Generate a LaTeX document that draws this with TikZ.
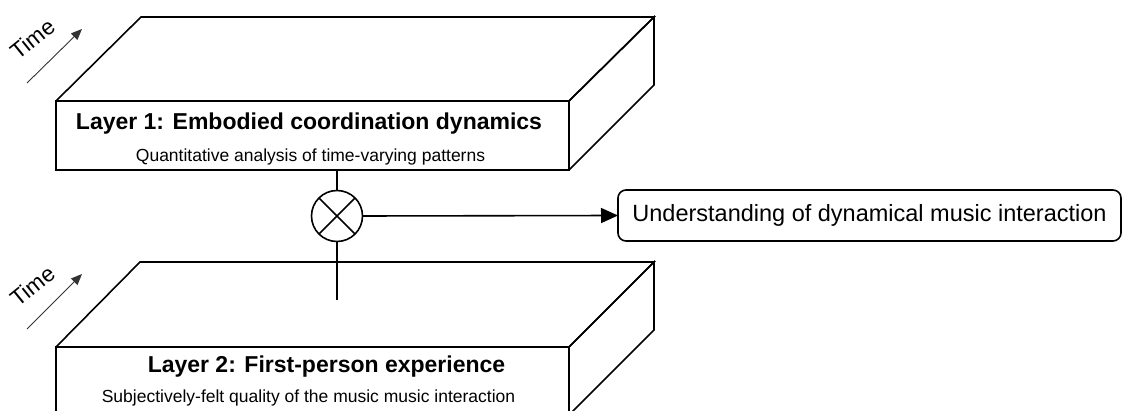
\documentclass[tikz,border=0pt]{standalone}
\usepackage{fontspec}
\setmainfont{Liberation Sans}
\usetikzlibrary{arrows.meta}
\begin{document}
\begin{tikzpicture}[x=1pt,y=-1pt,
  edge/.style={line width=1.6pt, line join=miter},
  face/.style={draw, line width=1.6pt, minimum width=513pt, minimum height=69pt,
    anchor=north west, inner sep=0pt, outer sep=0pt},
  title/.style={anchor=base, font=\bfseries\fontsize{23}{27}\selectfont, inner sep=0pt},
  subtitle/.style={anchor=base, font=\fontsize{17.5}{21}\selectfont, inner sep=0pt},
  timelabel/.style={rotate=39, font=\fontsize{22.5}{25}\selectfont, inner sep=0pt},
  timearrow/.style={line width=0.9pt, draw=black!80, -{Triangle[length=11pt,width=9pt]}},
  mixer/.style={circle, draw, line width=1.6pt, minimum size=51pt, inner sep=0pt, outer sep=0pt},
  result/.style={draw, line width=1.6pt, rounded corners=8pt, minimum width=503pt,
    minimum height=51pt, anchor=west, inner sep=0pt, outer sep=0pt,
    font=\fontsize{23.5}{28}\selectfont}]
\useasboundingbox (0,0) rectangle (1122,411);
\clip (0,0) rectangle (1122,411);

% Layer 1 block
\node[face] (front1) at (56,101) {};
\draw[edge] (front1.north west) -- ++(85,-84) -- ++(513,0) -- (front1.north east);
\draw[edge] (front1.north east) -- ++(85,-84) -- ++(0,68) -- (front1.south east);
\node[title] (l1title) at (309,130) {Layer 1: Embodied coordination dynamics};
\node[subtitle] (l1sub) at (310.5,162) {Quantitative analysis of time-varying patterns};

% Time axis of layer 1
\coordinate (t1s) at (27,83);
\coordinate (t1e) at (82,29);
\draw[timearrow] (t1s) -- (t1e);
\node[timelabel] (time1) at (33,39) {Time};

% Layer 2 block
\node[face] (front2) at (56,347) {};
\draw[edge] (front2.north west) -- ++(84,-85) -- ++(514,0) -- (front2.north east);
\draw[edge] (front2.north east) -- ++(85,-85) -- ++(0,68) -- ++(-85,85);
\node[title] (l2title) at (326.5,373) {Layer 2: First-person experience};
\node[subtitle] (l2sub) at (308.5,403) {Subjectively-felt quality of the music music interaction};

% Time axis of layer 2
\coordinate (t2s) at (27,329);
\coordinate (t2e) at (82,274);
\draw[timearrow] (t2s) -- (t2e);
\node[timelabel] (time2) at (33,286) {Time};

% Combination of both layers
\node[mixer] (mix) at (337,216) {};
\draw[edge] (mix.north west) -- (mix.south east);
\draw[edge] (mix.north east) -- (mix.south west);
\coordinate (tail) at (337,300);
\draw[edge] (mix.north |- front1.south) -- (mix.north);
\draw[edge] (mix.south) -- (tail);

% Outcome
\node[result] (out) at (618,215.5) {Understanding of dynamical music interaction};
\draw[edge, -{Triangle[length=17pt,width=15pt]}] (mix.east) -- (out.west);
\end{tikzpicture}
\end{document}
